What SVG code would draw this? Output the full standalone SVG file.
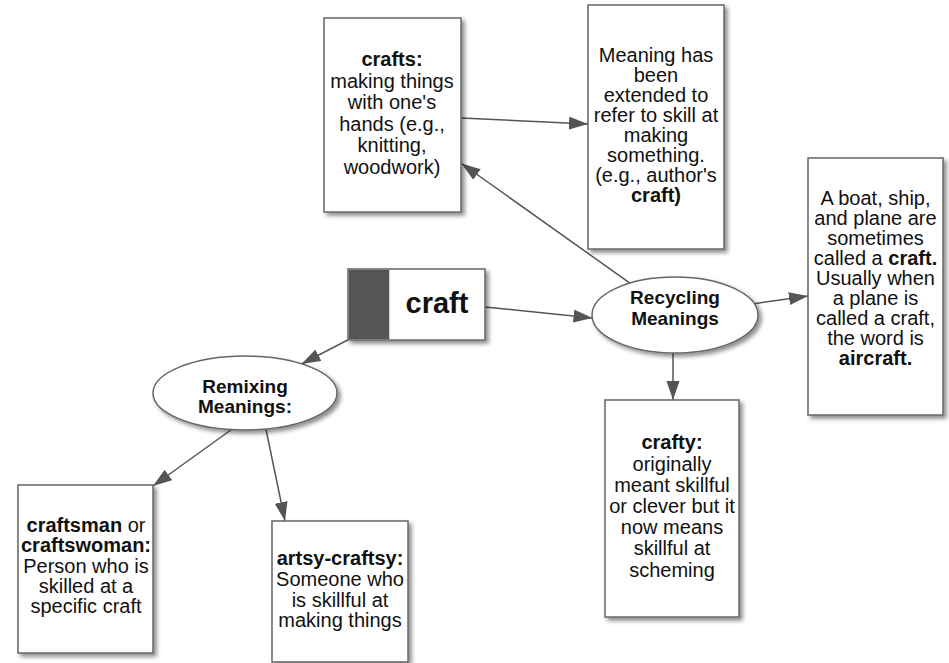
<svg xmlns="http://www.w3.org/2000/svg" width="949" height="663" viewBox="0 0 949 663">
<defs>
<filter id="sh" x="-20%" y="-20%" width="140%" height="140%">
<feDropShadow dx="3" dy="3" stdDeviation="2" flood-color="#000" flood-opacity="0.45"/>
</filter>
<marker id="ah" markerUnits="userSpaceOnUse" markerWidth="20" markerHeight="14" refX="19" refY="6.5" orient="auto">
<path d="M0,0 L19,6.5 L0,13 z" fill="#555"/>
</marker>
</defs>
<style>
.box{fill:#fff;stroke:#666;stroke-width:1.5;filter:url(#sh)}
.t{font-family:"Liberation Sans",Arial,sans-serif;font-size:20px;fill:#111;text-anchor:middle}
.b{font-weight:bold}
.e{font-family:"Liberation Sans",Arial,sans-serif;font-size:19px;font-weight:bold;fill:#111;text-anchor:middle}
.c{stroke:#555;stroke-width:1.5;fill:none;marker-end:url(#ah)}
</style>
<g id="connectors">
<line class="c" x1="347.7" y1="340" x2="301.5" y2="364"/>
<line class="c" x1="485" y1="307" x2="592.5" y2="318"/>
<line class="c" x1="629.9" y1="283.1" x2="461.5" y2="163.5"/>
<line class="c" x1="461" y1="118" x2="588" y2="124"/>
<line class="c" x1="673" y1="353" x2="673" y2="400"/>
<line class="c" x1="754" y1="303.7" x2="808" y2="296"/>
<line class="c" x1="231.5" y1="429.5" x2="153" y2="486"/>
<line class="c" x1="266" y1="429.5" x2="285" y2="521"/>
</g>
<g id="craft">
<rect class="box" x="348" y="269" width="137" height="71"/>
<rect x="348.75" y="269.75" width="40.5" height="69.5" fill="#555"/>
<text x="437" y="313" font-family="Liberation Sans,Arial,sans-serif" font-size="29" font-weight="bold" fill="#111" text-anchor="middle">craft</text>
</g>
<g id="remixing">
<ellipse class="box" cx="245" cy="393" rx="92" ry="37"/>
<text class="e" x="245" y="393">Remixing</text>
<text class="e" x="245" y="413">Meanings:</text>
</g>
<g id="recycling">
<ellipse class="box" cx="675" cy="315" rx="83" ry="38"/>
<text class="e" x="675" y="304">Recycling</text>
<text class="e" x="675" y="325">Meanings</text>
</g>
<g id="crafts">
<rect class="box" x="324" y="18" width="137" height="194"/>
<text class="t b" x="392" y="66">crafts:</text>
<text class="t" x="392" y="87.5">making things</text>
<text class="t" x="392" y="109">with one's</text>
<text class="t" x="392" y="130.5">hands (e.g.,</text>
<text class="t" x="392" y="152">knitting,</text>
<text class="t" x="392" y="173.5">woodwork)</text>
</g>
<g id="meaning">
<rect class="box" x="588" y="5" width="136" height="244"/>
<text class="t" x="656" y="62">Meaning has</text>
<text class="t" x="656" y="82">been</text>
<text class="t" x="656" y="102">extended to</text>
<text class="t" x="656" y="122">refer to skill at</text>
<text class="t" x="656" y="142">making</text>
<text class="t" x="656" y="162">something.</text>
<text class="t" x="656" y="182">(e.g., author's</text>
<text class="t b" x="656" y="202">craft)</text>
</g>
<g id="boat">
<rect class="box" x="808" y="158" width="135" height="257"/>
<text class="t" x="875.5" y="205">A boat, ship,</text>
<text class="t" x="875.5" y="225">and plane are</text>
<text class="t" x="875.5" y="245">sometimes</text>
<text class="t" x="875.5" y="265">called a <tspan class="b">craft.</tspan></text>
<text class="t" x="875.5" y="285">Usually when</text>
<text class="t" x="875.5" y="305">a plane is</text>
<text class="t" x="875.5" y="325">called a craft,</text>
<text class="t" x="875.5" y="345">the word is</text>
<text class="t b" x="875.5" y="365">aircraft.</text>
</g>
<g id="crafty">
<rect class="box" x="605" y="400" width="134" height="217"/>
<text class="t b" x="672" y="449">crafty:</text>
<text class="t" x="672" y="470.5">originally</text>
<text class="t" x="672" y="491.7">meant skillful</text>
<text class="t" x="672" y="513">or clever but it</text>
<text class="t" x="672" y="534">now means</text>
<text class="t" x="672" y="555">skillful at</text>
<text class="t" x="672" y="576.7">scheming</text>
</g>
<g id="craftsman">
<rect class="box" x="18" y="485" width="135" height="168"/>
<text class="t" x="86" y="531.7"><tspan class="b">craftsman</tspan> or</text>
<text class="t b" x="86" y="551.7">craftswoman:</text>
<text class="t" x="86" y="572.7">Person who is</text>
<text class="t" x="86" y="593.3">skilled at a</text>
<text class="t" x="86" y="613.3">specific craft</text>
</g>
<g id="artsy">
<rect class="box" x="272" y="521" width="136" height="141"/>
<text class="t b" x="340" y="565">artsy-craftsy:</text>
<text class="t" x="340" y="586">Someone who</text>
<text class="t" x="340" y="606.7">is skillful at</text>
<text class="t" x="340" y="627.3">making things</text>
</g>
</svg>
